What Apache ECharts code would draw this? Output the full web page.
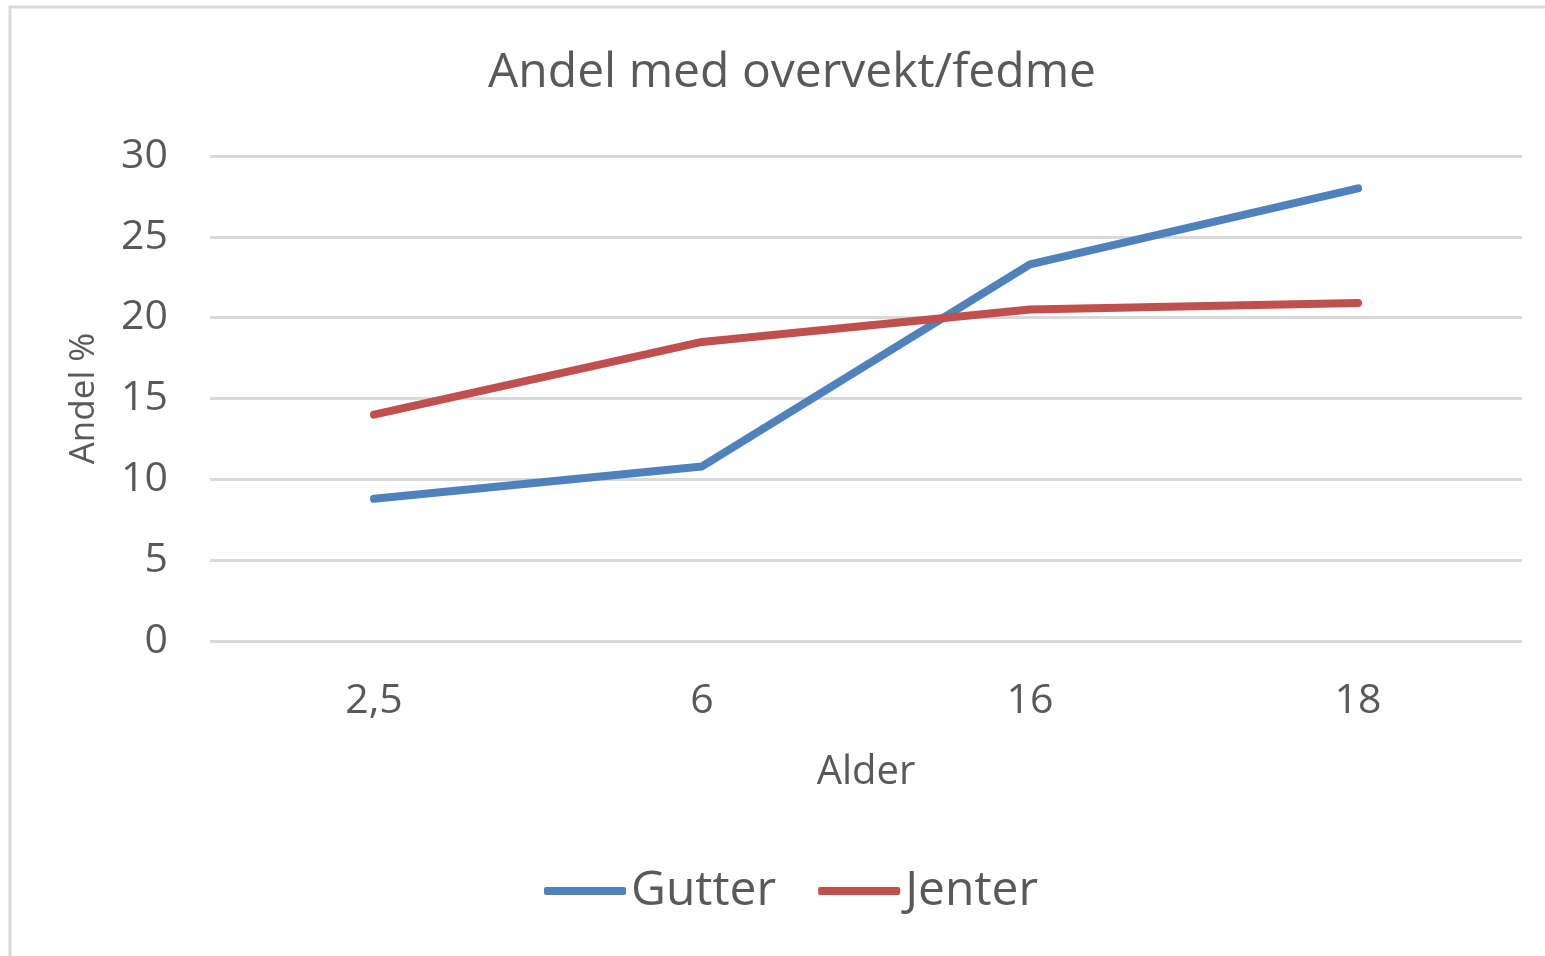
<!DOCTYPE html>
<html>
<head>
<meta charset="utf-8">
<script src="https://cdn.jsdelivr.net/npm/echarts@6/dist/echarts.min.js"></script>
<style>
  html, body { margin: 0; padding: 0; background: #fff; }
  #chart { width: 1545px; height: 956px; }
</style>
</head>
<body>
<div id="chart"></div>
<script>
    let ages = ['2,5', '6', '16', '18']
    let gutter = [8.8, 10.8, 23.3, 28]
    let jenter = [14, 18.5, 20.5, 20.9]
    let yTicks = [0, 5, 10, 15, 20, 25, 30]

    let chart = echarts.init(document.getElementById('chart'))
    let font = 'Open Sans'
    let textColor = '#595959'

    let option = {
        backgroundColor: '#fff',
        animation: false,
        graphic: [{
            type: 'rect',
            shape: { x: 10, y: 7, width: 1700, height: 1100 },
            style: { fill: 'none', stroke: '#d9d9d9', lineWidth: 3 }
        }],
        title: {
            text: 'Andel med overvekt/fedme',
            left: 787,
            textAlign: 'center',
            top: 44,
            textStyle: { fontFamily: font, fontSize: 48, fontWeight: 'normal', color: textColor }
        },
        legend: {
            bottom: 36,
            left: 539,
            icon: 'roundRect',
            itemWidth: 82,
            itemHeight: 8,
            itemGap: 42,
            textStyle: { fontFamily: font, fontSize: 48, color: textColor },
            data: ['Gutter', 'Jenter']
        },
        grid: { left: 210, right: 23, top: 156, bottom: 315 },
        xAxis: {
            type: 'category',
            data: ages,
            boundaryGap: true,
            name: 'Alder',
            nameLocation: 'middle',
            nameGap: 112,
            nameTextStyle: { fontFamily: font, fontSize: 40, color: textColor },
            axisLine: { show: false },
            axisTick: { show: false },
            axisLabel: { fontFamily: font, fontSize: 41, color: textColor, margin: 40 }
        },
        yAxis: {
            type: 'value',
            min: yTicks[0],
            max: yTicks[yTicks.length - 1],
            interval: 5,
            name: 'Andel %',
            nameLocation: 'middle',
            nameGap: 108,
            nameTextStyle: { fontFamily: font, fontSize: 35, color: textColor },
            axisLine: { show: false },
            axisTick: { show: false },
            axisLabel: { fontFamily: font, fontSize: 41, color: textColor, margin: 42 },
            splitLine: { lineStyle: { color: '#d9d9d9', width: 3 } }
        },
        series: [
            {
                name: 'Gutter',
                type: 'line',
                data: gutter,
                symbol: 'none',
                itemStyle: { color: '#4f81bd' },
                lineStyle: { color: '#4f81bd', width: 8, cap: 'round', join: 'round' }
            },
            {
                name: 'Jenter',
                type: 'line',
                data: jenter,
                symbol: 'none',
                itemStyle: { color: '#c0504d' },
                lineStyle: { color: '#c0504d', width: 8, cap: 'round', join: 'round' }
            }
        ]
    }

    chart.setOption(option)
    window.addEventListener('resize', function () {
        chart.resize()
    })
</script>
</body>
</html>
